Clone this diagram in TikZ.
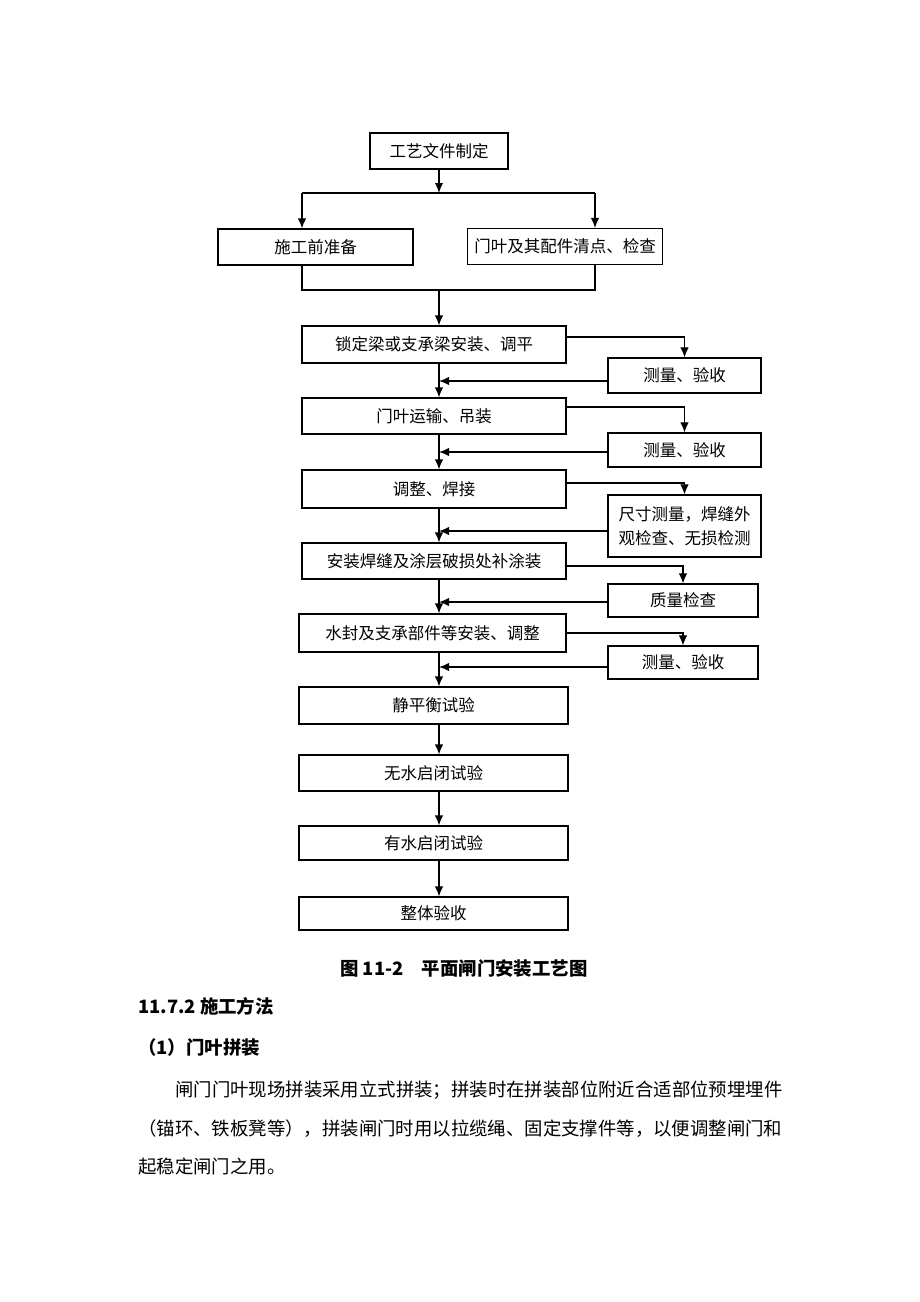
\documentclass[tikz,border=0pt]{standalone}
\usepackage{fontspec}
\setmainfont{Noto Sans CJK SC}
\usetikzlibrary{arrows.meta}
\begin{document}
\begin{tikzpicture}[x=1pt,y=-1pt,
  box/.style={draw, line width=1.2pt, inner sep=0pt, font=\fontsize{16.5}{19}\selectfont},
  arr/.style={line width=1.4pt, -{Latex[length=10pt,width=8.5pt]}},
  ln/.style={line width=1.2pt},
  body/.style={anchor=base west, inner sep=0pt, font=\fontsize{18.4}{22}\selectfont},
  head/.style={anchor=base west, inner sep=0pt, font=\fontsize{18.4}{22}\selectfont\bfseries}]
\useasboundingbox (0,0) rectangle (920,1302);
% top part
\node[box, minimum width=138pt, minimum height=36pt] (top) at (439,151) {工艺文件制定};
\node[box, minimum width=195pt, minimum height=36pt] (L) at (315.5,247) {施工前准备};
\node[box, minimum width=195pt, minimum height=36pt] (R) at (565,246.5) {门叶及其配件清点、检查};
\coordinate (jl) at (302,193);
\coordinate (jr) at (595,193);
\coordinate (ml) at (302,290);
\coordinate (mr) at (595,290);
% main boxes
\node[box, minimum width=264pt, minimum height=37pt] (b1) at (434,344.5) {锁定梁或支承梁安装、调平};
\node[box, minimum width=264pt, minimum height=36pt] (b2) at (434,416) {门叶运输、吊装};
\node[box, minimum width=264pt, minimum height=38pt] (b3) at (434,489) {调整、焊接};
\node[box, minimum width=264pt, minimum height=36pt] (b4) at (434,561) {安装焊缝及涂层破损处补涂装};
\node[box, minimum width=267pt, minimum height=38pt] (b5) at (432.5,633) {水封及支承部件等安装、调整};
\node[box, minimum width=269pt, minimum height=37pt] (b6) at (433.5,705.5) {静平衡试验};
\node[box, minimum width=269pt, minimum height=36pt] (b7) at (433.5,773) {无水启闭试验};
\node[box, minimum width=269pt, minimum height=34pt] (b8) at (433.5,843) {有水启闭试验};
\node[box, minimum width=269pt, minimum height=33pt] (b9) at (433.5,913.5) {整体验收};
% side boxes
\node[box, minimum width=153pt, minimum height=35pt] (m1) at (684.5,375.5) {测量、验收};
\node[box, minimum width=153pt, minimum height=34pt] (m2) at (684.5,450) {测量、验收};
\node[box, minimum width=153pt, minimum height=62pt, align=left, text width=132pt] (m3) at (684.5,526) {尺寸测量，焊缝外\\[5pt]观检查、无损检测};
\node[box, minimum width=150pt, minimum height=33pt] (m4) at (683,600.5) {质量检查};
\node[box, minimum width=150pt, minimum height=33pt] (m5) at (683,662.5) {测量、验收};
% top connectors
\draw[arr] (top.south) -- (top.south |- jl);
\draw[ln] (jl) -- (jr);
\draw[arr] (jl) -- (jl |- L.north);
\draw[arr] (jr) -- (jr |- R.north);
\draw[ln] (L.south -| ml) -- (ml) -- (mr) -- (R.south -| mr);
\draw[arr] (top.south |- ml) -- (b1.north -| top.south);
% spine
\draw[arr] (b1.south -| top.south) -- (b2.north -| top.south);
\draw[arr] (b2.south -| top.south) -- (b3.north -| top.south);
\draw[arr] (b3.south -| top.south) -- (b4.north -| top.south);
\draw[arr] (b4.south -| top.south) -- (b5.north -| top.south);
\draw[arr] (b5.south -| top.south) -- (b6.north -| top.south);
\draw[arr] (b6.south -| top.south) -- (b7.north -| top.south);
\draw[arr] (b7.south -| top.south) -- (b8.north -| top.south);
\draw[arr] (b8.south -| top.south) -- (b9.north -| top.south);
% branches
\draw[arr, line width=1.1pt] ([yshift=7.5pt]b1.east) -| (m1.north);
\draw[arr, line width=1.1pt] ([yshift=9pt]b2.east) -| (m2.north);
\draw[arr, line width=1.1pt] ([yshift=6pt]b3.east) -| (m3.north);
\draw[arr, line width=1.1pt] ([yshift=-5pt]b4.east) -| (m4.north);
\draw[arr, line width=1.1pt] (b5.east) -| (m5.north);
% returns
\draw[arr] ([yshift=-5.5pt]m1.west) -- ([yshift=-5.5pt]m1.west -| top.south);
\draw[arr] ([yshift=-2pt]m2.west) -- ([yshift=-2pt]m2.west -| top.south);
\draw[arr] ([yshift=-5pt]m3.west) -- ([yshift=-5pt]m3.west -| top.south);
\draw[arr] ([yshift=-1.5pt]m4.west) -- ([yshift=-1.5pt]m4.west -| top.south);
\draw[arr] ([yshift=-4.5pt]m5.west) -- ([yshift=-4.5pt]m5.west -| top.south);
% text below
\node[head] (cap) at (340,975) {图 11-2\hspace{1em}平面闸门安装工艺图};
\node[head] (sec) at (138,1013) {11.7.2 施工方法};
\node[head] (sub) at (138,1054) {（1）门叶拼装};
\node[body] (p1) at (175,1096) {闸门门叶现场拼装采用立式拼装；拼装时在拼装部位附近合适部位预埋埋件};
\node[body] (p2) at (138,1135) {（锚环、铁板凳等），拼装闸门时用以拉缆绳、固定支撑件等，以便调整闸门和};
\node[body] (p3) at (138,1173) {起稳定闸门之用。};
\end{tikzpicture}
\end{document}
